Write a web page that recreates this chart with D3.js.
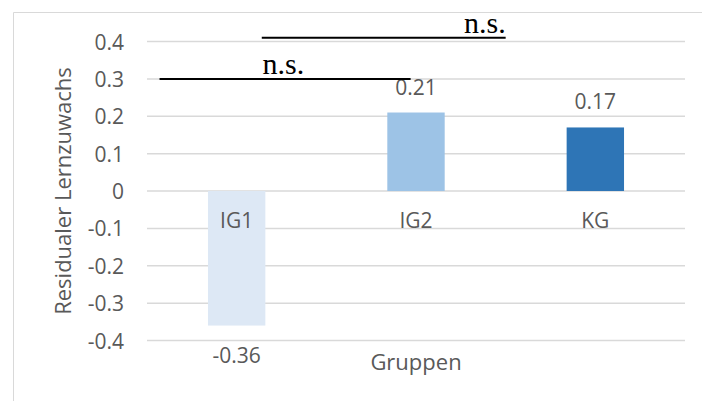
<!DOCTYPE html>
<html>
<head>
<meta charset="utf-8">
<script src="https://cdn.jsdelivr.net/npm/d3@7"></script>
<style>
  body { margin: 0; background: #fff; }
  text { font-family: "Open Sans", sans-serif; fill: #595959; }
</style>
</head>
<body>
<div id="chart"></div>
<script>
var width = 702;
var height = 401;
var margin = {top: 41.5, right: 17, bottom: 60.5, left: 147};

// data
var groups = ["IG1", "IG2", "KG"];
var values = [-0.36, 0.21, 0.17];
var colors = ["#dde8f5", "#9dc3e6", "#2e75b6"];
var yTicks = [-0.4, -0.3, -0.2, -0.1, 0, 0.1, 0.2, 0.3, 0.4];
// significance brackets: from/to in category units, y level in value units
var sigFrom = [0.07, 0.64];
var sigTo = [1.47, 2.0];
var sigLevel = [0.30, 0.41];
var sigText = ["n.s.", "n.s."];

var svg = d3.select("#chart").append("svg")
  .attr("width", width)
  .attr("height", height);

// chart area border (cut off on right and bottom)
svg.append("path")
  .attr("d", "M13.5," + height + "V12.5H" + width)
  .attr("fill", "none")
  .attr("stroke", "#d9d9d9")
  .attr("stroke-width", 1);

var x = d3.scaleBand()
  .domain(groups)
  .range([margin.left, width - margin.right])
  .paddingInner(0.68)
  .paddingOuter(0.34);

var xc = d3.scaleLinear().domain([0, 3]).range([margin.left, width - margin.right]);

var y = d3.scaleLinear()
  .domain([-0.4, 0.4])
  .range([height - margin.bottom, margin.top]);

// plain hyphen minus like the original
function fmt(d, n) {
  return d === 0 ? "0" : d.toFixed(n);
}

// gridlines
svg.append("g")
  .selectAll("line")
  .data(yTicks)
  .enter().append("line")
  .attr("x1", margin.left)
  .attr("x2", width - margin.right)
  .attr("y1", function(d) { return y(d); })
  .attr("y2", function(d) { return y(d); })
  .attr("stroke", "#d9d9d9")
  .attr("stroke-width", 1.5);

// y axis labels
var yAxis = d3.axisLeft(y).tickValues(yTicks).tickSize(0).tickPadding(0)
  .tickFormat(function(d) { return fmt(d, 1); });
var gy = svg.append("g")
  .attr("transform", "translate(124,0)")
  .call(yAxis);
gy.select(".domain").remove();
gy.selectAll("text")
  .style("font-size", "21px")
  .attr("fill", "#595959")
  .attr("dy", "0.36em");

// bars
svg.append("g")
  .selectAll("rect")
  .data(values)
  .enter().append("rect")
  .attr("x", function(d, i) { return x(groups[i]); })
  .attr("width", x.bandwidth())
  .attr("y", function(d) { return y(Math.max(0, d)); })
  .attr("height", function(d) { return Math.abs(y(d) - y(0)); })
  .attr("fill", function(d, i) { return colors[i]; });

// value labels
svg.append("g")
  .selectAll("text")
  .data(values)
  .enter().append("text")
  .attr("x", function(d, i) { return x(groups[i]) + x.bandwidth() / 2; })
  .attr("y", function(d) { return d < 0 ? y(d) + 37 : y(d) - 18; })
  .attr("text-anchor", "middle")
  .style("font-size", "21px")
  .text(function(d) { return fmt(d, 2); });

// category labels at the zero line
svg.append("g")
  .selectAll("text")
  .data(groups)
  .enter().append("text")
  .attr("x", function(d) { return x(d) + x.bandwidth() / 2; })
  .attr("y", y(0) + 37)
  .attr("text-anchor", "middle")
  .style("font-size", "21px")
  .text(function(d) { return d; });

// axis titles
svg.append("text")
  .attr("text-anchor", "middle")
  .attr("transform", "translate(71," + y(0) + ") rotate(-90)")
  .style("font-size", "22px")
  .text("Residualer Lernzuwachs");

svg.append("text")
  .attr("text-anchor", "middle")
  .attr("x", xc(1.5))
  .attr("y", 370)
  .style("font-size", "22px")
  .text("Gruppen");

// n.s. brackets
var sig = svg.append("g");
sig.selectAll("line")
  .data(sigLevel)
  .enter().append("line")
  .attr("x1", function(d, i) { return xc(sigFrom[i]); })
  .attr("x2", function(d, i) { return xc(sigTo[i]); })
  .attr("y1", function(d) { return y(d); })
  .attr("y2", function(d) { return y(d); })
  .attr("stroke", "#000")
  .attr("stroke-width", 2);
sig.selectAll("text")
  .data(sigLevel)
  .enter().append("text")
  .attr("x", function(d, i) { return i === 0 ? xc(sigFrom[i]) + 103 : xc(sigTo[i]); })
  .attr("y", function(d) { return y(d) - 5; })
  .attr("text-anchor", function(d, i) { return i === 0 ? "start" : "end"; })
  .style("font-family", "'Liberation Serif', 'Times New Roman', serif")
  .style("font-size", "30px")
  .style("fill", "#000")
  .text(function(d, i) { return sigText[i]; });
</script>
</body>
</html>
